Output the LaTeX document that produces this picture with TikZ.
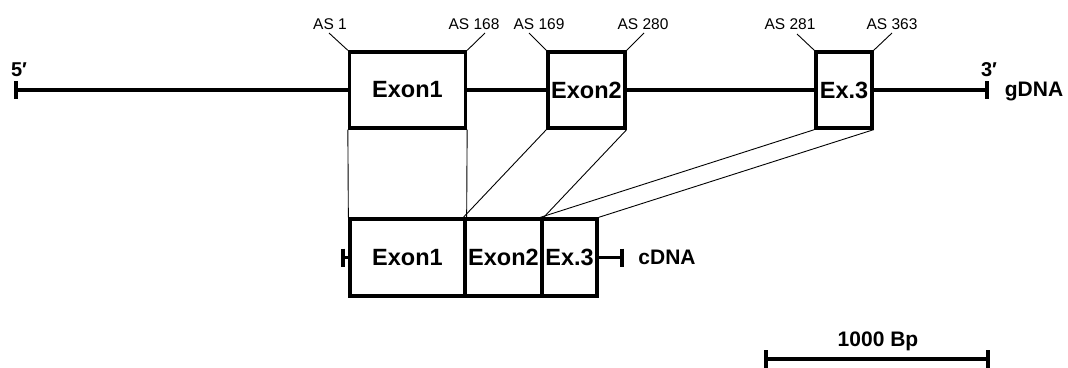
\documentclass[tikz,border=0pt]{standalone}
\usepackage{fontspec}
\setmainfont{Liberation Sans}
\usetikzlibrary{calc}
\begin{document}
\begin{tikzpicture}[x=1pt,y=-1pt,
  exonbox/.style={draw,line width=3.3pt,fill=white,inner sep=0pt,minimum height=76pt,font=\fontsize{23.5}{23.5}\selectfont\bfseries},
  thick line/.style={line width=3.3pt},
  thin line/.style={line width=0.9pt},
  aslabel/.style={inner sep=0pt,font=\fontsize{15.5}{16}\selectfont},
  biglabel/.style={inner sep=0pt,font=\fontsize{21}{21}\selectfont\bfseries}]
\useasboundingbox (0,0) rectangle (1068,367);
% gDNA
\node[exonbox,minimum width=116pt] (g1) at (407.5,90) {Exon1};
\node[exonbox,minimum width=77pt] (g2) at (586.5,90) {Exon2};
\node[exonbox,minimum width=56pt] (g3) at (844,90) {Ex.3};
\coordinate (gl) at (16,90);
\coordinate (gr) at (987,90);
\draw[thick line] (gl) -- (g1.west);
\draw[thick line] (g1.east) -- (g2.west);
\draw[thick line] (g2.east) -- (g3.west);
\draw[thick line] (g3.east) -- (gr);
\draw[thick line] ($(gl)+(0,-9)$) -- ($(gl)+(0,9)$);
\draw[thick line] ($(gr)+(0,-9)$) -- ($(gr)+(0,9)$);
\node[biglabel,font=\fontsize{20}{20}\selectfont\bfseries] (p5) at (19,70) {5′};
\node[biglabel,font=\fontsize{20}{20}\selectfont\bfseries] (p3) at (989,70) {3′};
\node[biglabel] (gdna) at (1034,91) {gDNA};
% AS labels
\node[aslabel] (as1) at (330,24) {AS 1};
\node[aslabel] (as168) at (474,24) {AS 168};
\node[aslabel] (as169) at (539,24) {AS 169};
\node[aslabel] (as280) at (643,24) {AS 280};
\node[aslabel] (as281) at (790,24) {AS 281};
\node[aslabel] (as363) at (892,24) {AS 363};
\coordinate (l1) at (329,33);
\coordinate (l168) at (485,33);
\coordinate (l169) at (529,33);
\coordinate (l280) at (644,33);
\coordinate (l281) at (797,34);
\coordinate (l363) at (892,33);
\draw[thin line] (l1) -- (g1.north west);
\draw[thin line] (l168) -- (g1.north east);
\draw[thin line] (l169) -- (g2.north west);
\draw[thin line] (l280) -- (g2.north east);
\draw[thin line] (l281) -- (g3.north west);
\draw[thin line] (l363) -- (g3.north east);
% cDNA
\node[exonbox,minimum width=115pt,minimum height=77pt] (c1) at (407.5,257.5) {Exon1};
\node[exonbox,minimum width=77pt,minimum height=77pt] (c2) at (503.5,257.5) {Exon2};
\node[exonbox,minimum width=55pt,minimum height=77pt] (c3) at (569.5,257.5) {Ex.3};
\coordinate (cl) at (343,257.5);
\coordinate (cr) at (622,257.5);
\draw[thick line] (cl) -- (c1.west);
\draw[thick line] (c3.east) -- (cr);
\draw[thick line] ($(cl)+(0,-9)$) -- ($(cl)+(0,9)$);
\draw[thick line] ($(cr)+(0,-9)$) -- ($(cr)+(0,9)$);
\node[biglabel] (cdna) at (667,257.5) {cDNA};
% connectors
\draw[thin line] (g1.south west) -- (c1.north west);
\draw[thin line] (g1.south east) -- (c1.north east);
\draw[thin line] (g2.south west) -- (c2.north west);
\draw[thin line] (g2.south east) -- (c2.north east);
\draw[thin line] (g3.south west) -- (c3.north west);
\draw[thin line] (g3.south east) -- (c3.north east);
% scale bar
\coordinate (sl) at (766,359);
\coordinate (sr) at (988,359);
\draw[thick line] (sl) -- (sr);
\draw[thick line] ($(sl)+(0,-9)$) -- ($(sl)+(0,9)$);
\draw[thick line] ($(sr)+(0,-9)$) -- ($(sr)+(0,9)$);
\node[biglabel] (bp) at (878,341) {1000 Bp};
\end{tikzpicture}
\end{document}
